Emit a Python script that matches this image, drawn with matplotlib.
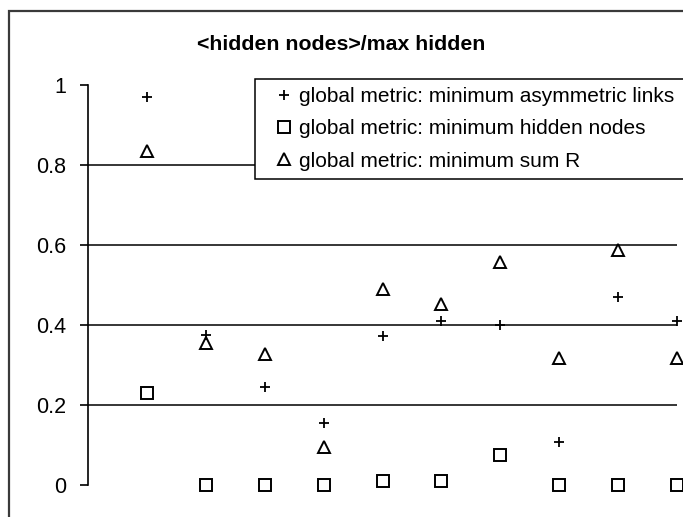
import matplotlib.pyplot as plt
from matplotlib.patches import Rectangle

plt.rcParams['font.family'] = ['Liberation Sans', 'DejaVu Sans']

# data
runs = [1, 2, 3, 4, 5, 6, 7, 8, 9, 10]
asym_links = [0.97, 0.375, 0.245, 0.155, 0.372, 0.41, 0.40, 0.108, 0.47, 0.41]
hidden_nodes = [0.23, 0.0, 0.0, 0.0, 0.01, 0.01, 0.075, 0.0, 0.0, 0.0]
sum_r = [0.835, 0.355, 0.328, 0.095, 0.49, 0.452, 0.557, 0.318, 0.588, 0.318]
yticks = [0, 0.2, 0.4, 0.6, 0.8, 1]
ytick_labels = ['0', '0.2', '0.4', '0.6', '0.8', '1']
gridlines = [0.2, 0.4, 0.6, 0.8]

W, H = 683, 517
fig = plt.figure(figsize=(W / 100, H / 100), dpi=100)
ax = fig.add_axes([88 / W, (H - 485) / H, (677 - 88) / W, 400 / H])

# outer chart border (right and bottom sides fall outside the crop)
fig.patches.append(Rectangle((8.5 / W, -0.2), 1.2, 1.2 - 11 / H,
                             transform=fig.transFigure, fill=False,
                             edgecolor='#3a3a3a', linewidth=1.6))

for g in gridlines:
    ax.axhline(g, color='black', linewidth=1.1, zorder=1)

ax.plot(runs, asym_links, linestyle='none', marker='+', markersize=7.5,
        markeredgewidth=1.3, color='black', clip_on=False, zorder=3,
        label='global metric: minimum asymmetric links')
ax.plot(runs, hidden_nodes, linestyle='none', marker='s', markersize=8,
        markeredgewidth=1.4, markerfacecolor='none', markeredgecolor='black',
        clip_on=False, zorder=3, label='global metric: minimum hidden nodes')
ax.plot(runs, sum_r, linestyle='none', marker='^', markersize=9,
        markeredgewidth=1.4, markerfacecolor='none', markeredgecolor='black',
        clip_on=False, zorder=3, label='global metric: minimum sum R')

ax.set_xlim(0, 10)
ax.set_ylim(0, 1)
ax.set_yticks(yticks)
ax.set_yticklabels(ytick_labels)
ax.set_xticks([])
for s in ['top', 'right', 'bottom']:
    ax.spines[s].set_visible(False)
ax.spines['left'].set_linewidth(1.2)
ax.tick_params(axis='y', direction='out', length=6, width=1.2, pad=10,
               labelsize=15.5)

fig.text(341 / W, 1 - 45 / H, '<hidden nodes>/max hidden', ha='center',
         va='center', fontsize=15.3, fontweight='bold')

# legend box runs past the right edge of the crop
leg = ax.legend(loc='upper left',
                bbox_to_anchor=(255 / W, 1 - 181 / H, 450 / W, 102 / H),
                bbox_transform=fig.transFigure, mode='expand', fontsize=15,
                frameon=True, fancybox=False, framealpha=1, edgecolor='black',
                borderpad=0.38, labelspacing=0.64, handlelength=2.0,
                handletextpad=-0.25, borderaxespad=0)
leg.get_frame().set_linewidth(1.1)

fig.savefig('out.png', dpi=100)
